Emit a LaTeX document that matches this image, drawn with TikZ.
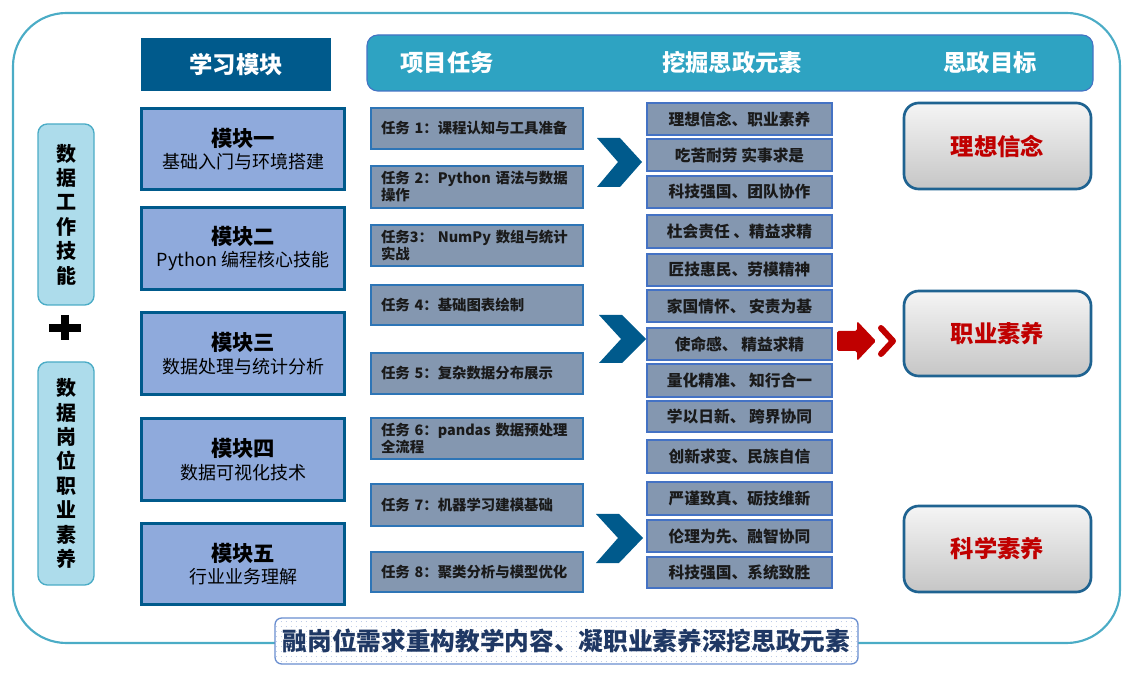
\documentclass[tikz,border=0pt]{standalone}
\usepackage{fontspec}
\setmainfont{Noto Sans CJK SC}
\usetikzlibrary{patterns.meta}
\definecolor{dblue}{HTML}{005A8C}
\definecolor{modfill}{HTML}{8FAADC}
\definecolor{taskfill}{HTML}{8497B0}
\definecolor{taskline}{HTML}{2E75B6}
\definecolor{elline}{HTML}{4472C4}
\definecolor{tealc}{HTML}{2EA3C2}
\definecolor{framec}{HTML}{4BACC6}
\definecolor{lbluec}{HTML}{ADDCEB}
\definecolor{goalline}{HTML}{1F6391}
\definecolor{goalred}{HTML}{C00000}
\definecolor{navyc}{HTML}{1F3864}
\definecolor{dotc}{HTML}{8FA8D8}
\definecolor{txtc}{HTML}{1A1A1A}
\tikzset{
  cell/.style={inner sep=0pt, outer sep=0pt},
  rect/.style n args={4}{at={({(#1+#3)/2},{(#2+#4)/2})},
      minimum width={(#3-#1)*0.75pt}, minimum height={(#4-#2)*0.75pt}},
  hdrbox/.style={cell, fill=dblue, text=white, font=\fontsize{17.5}{20}\selectfont\bfseries},
  hdrtxt/.style={cell, text=white, font=\fontsize{17.5}{20}\selectfont\bfseries},
  modbox/.style={cell, draw=dblue, line width=2.25pt, fill=modfill, align=center, text=black,
                 font=\fontsize{13.5}{17}\selectfont},
  taskbox/.style={cell, draw=taskline, line width=1.1pt, fill=taskfill, text=txtc,
                  text width=144pt, align=left, font=\fontsize{10.8}{12.8}\selectfont\bfseries},
  elbox/.style={cell, draw=elline, line width=1.1pt, fill=taskfill, text=txtc,
                font=\fontsize{11.8}{14}\selectfont\bfseries},
  goalbox/.style={cell, draw=goalline, line width=2pt, rounded corners=11pt,
                  top color=gray!8, bottom color=gray!45, text=goalred,
                  font=\fontsize{17.5}{20}\selectfont\bfseries},
  vbox/.style={cell, draw=framec, line width=1pt, fill=lbluec, rounded corners=7pt,
               align=center, text=black, font=\fontsize{15}{18.3}\selectfont\bfseries},
  chev/.style={fill=dblue},
}
\newcommand{\modtext}[2]{{\fontsize{16}{18}\selectfont\bfseries #1}\\#2}
\begin{document}
\begin{tikzpicture}[x=0.75pt,y=-0.75pt]
\useasboundingbox (0,0) rectangle (1133,677);
% outer frame
\node[cell, draw=framec, line width=1.6pt, rounded corners=40pt, rect={13}{13}{1120}{643}] (frame) {};
% headers
\node[hdrbox, rect={141}{38}{331}{91}] (hmod) {学习模块};
\node[cell, fill=tealc, draw=elline, line width=0.8pt, rounded corners=8pt, rect={367}{35}{1093}{91}] (hbar) {};
\node[hdrtxt] (htask) at (447,63) {项目任务};
\node[hdrtxt] (hel) at (732,63) {挖掘思政元素};
\node[hdrtxt] (hgoal) at (990,63) {思政目标};
% left vertical boxes
\node[vbox, rect={38}{124}{94}{305}] (v1) {数\\据\\工\\作\\技\\能};
\node[vbox, rect={38}{362}{94}{585}] (v2) {数\\据\\岗\\位\\职\\业\\素\\养};
\draw[line width=6pt] (49,328) -- (81,328);
\draw[line width=6pt] (65,315) -- (65,340);
% modules
\node[modbox, rect={141.5}{108.5}{344.5}{189.5}] (m1) {\modtext{模块一}{基础入门与环境搭建}};
\node[modbox, rect={141.5}{207.5}{344.5}{289.5}] (m2) {\modtext{模块二}{Python 编程核心技能}};
\node[modbox, rect={141.5}{312.5}{344.5}{394.5}] (m3) {\modtext{模块三}{数据处理与统计分析}};
\node[modbox, rect={141.5}{418.5}{344.5}{500.5}] (m4) {\modtext{模块四}{数据可视化技术}};
\node[modbox, rect={141.5}{523.5}{344.5}{604.5}] (m5) {\modtext{模块五}{行业业务理解}};
% tasks
\node[taskbox, rect={371}{108}{583}{149}] (t1) {任务 1：课程认知与工具准备};
\node[taskbox, rect={371}{166}{583}{208}] (t2) {任务 2：Python 语法与数据\\操作};
\node[taskbox, rect={371}{225}{583}{266}] (t3) {任务3：\ NumPy 数组与统计\\实战};
\node[taskbox, rect={371}{285}{583}{325}] (t4) {任务 4：基础图表绘制};
\node[taskbox, rect={371}{353}{583}{394}] (t5) {任务 5：复杂数据分布展示};
\node[taskbox, rect={371}{418}{583}{459}] (t6) {任务 6：pandas 数据预处理\\全流程};
\node[taskbox, rect={371}{484}{583}{526}] (t7) {任务 7：机器学习建模基础};
\node[taskbox, rect={371}{552}{583}{592}] (t8) {任务 8：聚类分析与模型优化};
% chevrons
\fill[chev] (597,138) -- (620,138) -- (642,162) -- (620,187) -- (597,187) -- (618,162) -- cycle;
\fill[chev] (599,315) -- (622,315) -- (646,339) -- (622,363) -- (599,363) -- (621,339) -- cycle;
\fill[chev] (596,514) -- (619,514) -- (643,538) -- (619,563) -- (596,563) -- (618,538) -- cycle;
% elements
\node[elbox, rect={647}{103}{832}{135}] (e1) {理想信念、职业素养};
\node[elbox, rect={647}{139}{832}{171}] (e2) {吃苦耐劳 实事求是};
\node[elbox, rect={647}{176}{832}{208}] (e3) {科技强国、团队协作};
\node[elbox, rect={647}{215}{832}{248}] (e4) {杜会责任 、精益求精};
\node[elbox, rect={647}{254}{832}{286}] (e5) {匠技惠民、劳模精神};
\node[elbox, rect={647}{290}{832}{322}] (e6) {家国情怀、 安责为基};
\node[elbox, rect={647}{328}{832}{360}] (e7) {使命感、 精益求精};
\node[elbox, rect={647}{364}{832}{397}] (e8) {量化精准、 知行合一};
\node[elbox, rect={647}{401}{832}{432}] (e9) {学以日新、 跨界协同};
\node[elbox, rect={647}{440}{832}{473}] (e10) {创新求变、民族自信};
\node[elbox, rect={647}{482}{832}{515}] (e11) {严谨致真、砺技维新};
\node[elbox, rect={647}{520}{832}{552}] (e12) {伦理为先、融智协同};
\node[elbox, rect={647}{557}{832}{588}] (e13) {科技强国、系统致胜};
% red arrow
\fill[goalred, rounded corners=1.2pt] (837,331) -- (857,331) -- (857,321) -- (876,341) -- (857,361) -- (857,351) -- (837,351) -- cycle;
\draw[goalred, line width=4.5pt, line cap=round, line join=round] (881,328) -- (893,341) -- (881,354);
% goals
\node[goalbox, rect={904}{103}{1091}{189}] (g1) {理想信念};
\node[goalbox, rect={904}{291}{1091}{376}] (g2) {职业素养};
\node[goalbox, rect={904}{506}{1091}{592}] (g3) {科学素养};
% banner
\node[cell, rect={275}{618}{858}{664}, draw=elline!80, line width=1pt, rounded corners=5pt, fill=white,
      postaction={pattern={Dots[distance=4pt,radius=0.35pt]}, pattern color=dotc},
      text=navyc, font=\fontsize{18.5}{21}\selectfont\bfseries] (banner) {融岗位需求重构教学内容、凝职业素养深挖思政元素};
\end{tikzpicture}
\end{document}
